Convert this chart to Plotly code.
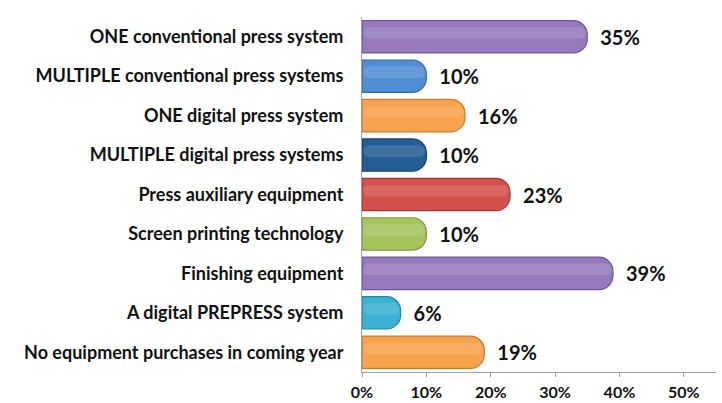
import plotly.graph_objects as go

# Survey: planned equipment purchases in the coming year
categories = [
    "ONE conventional press system",
    "MULTIPLE conventional press systems",
    "ONE digital press system",
    "MULTIPLE digital press systems",
    "Press auxiliary equipment",
    "Screen printing technology",
    "Finishing equipment",
    "A digital PREPRESS system",
    "No equipment purchases in coming year",
]
shares = [0.35, 0.10, 0.16, 0.10, 0.23, 0.10, 0.39, 0.06, 0.19]
bar_colors = ["#9579BC", "#4F8ED3", "#F7A24C", "#235E96", "#D4504C",
              "#A6C35E", "#9579BC", "#3AB2D2", "#F7A24C"]
edge_colors = ["#6F5690", "#3469A3", "#C87A2E", "#17406A", "#A23633",
               "#7E9840", "#6F5690", "#2487A3", "#C87A2E"]
x_ticks = [0, 0.1, 0.2, 0.3, 0.4, 0.5]
x_tick_text = ["0%", "10%", "20%", "30%", "40%", "50%"]

label_font = "Lato, 'Open Sans', sans-serif"

fig = go.Figure()

# main cylinder-like bars
fig.add_trace(go.Bar(
    y=categories,
    x=shares,
    orientation="h",
    width=0.82,
    marker=dict(color=bar_colors, line=dict(color=edge_colors, width=1.2),
                cornerradius=14),
    text=[f"\u2002{round(v * 100)}%" for v in shares],
    textposition="outside",
    textfont=dict(family=label_font, size=20, color="#111111", weight="bold"),
    cliponaxis=False,
    hoverinfo="skip",
))

# soft highlight along the upper part of each bar
fig.add_trace(go.Bar(
    y=categories,
    x=[v - 0.004 for v in shares],
    base=[0.002] * len(shares),
    orientation="h",
    width=0.3,
    offset=-0.05,
    marker=dict(color="rgba(255,255,255,0.12)", line=dict(width=0),
                cornerradius=6),
    hoverinfo="skip",
))

fig.update_layout(
    width=722,
    height=403,
    margin=dict(l=362, r=6, t=17, b=31),
    paper_bgcolor="white",
    plot_bgcolor="white",
    barmode="overlay",
    showlegend=False,
    xaxis=dict(
        range=[0, 0.55],
        tickvals=x_ticks,
        ticktext=x_tick_text,
        ticks="outside",
        ticklen=4,
        tickcolor="#A0A0A0",
        ticklabelstandoff=2,
        automargin=False,
        showgrid=False,
        zeroline=False,
        showline=True,
        linecolor="#A0A0A0",
        linewidth=1,
        tickfont=dict(family=label_font, size=16, color="#111111", weight="bold"),
        fixedrange=True,
    ),
    yaxis=dict(
        categoryorder="array",
        categoryarray=categories[::-1],
        autorange=False,
        range=[-0.5, len(categories) - 0.5],
        automargin=False,
        showgrid=False,
        zeroline=False,
        showline=True,
        linecolor="#A0A0A0",
        linewidth=1,
        ticks="",
        ticklabelstandoff=14,
        tickfont=dict(family=label_font, size=18, color="#111111", weight="bold"),
        fixedrange=True,
    ),
)

fig.write_html("out.html")
